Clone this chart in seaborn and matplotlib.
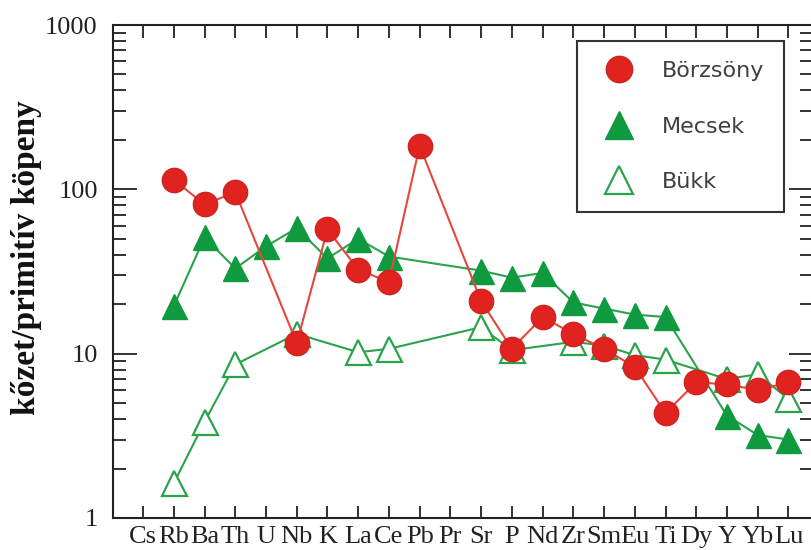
import numpy as np
import pandas as pd
import matplotlib
matplotlib.use("Agg")
import matplotlib.pyplot as plt
from matplotlib.lines import Line2D
import seaborn as sns

# element order on the x axis (spider diagram)
elements = ["Cs", "Rb", "Ba", "Th", "U", "Nb", "K", "La", "Ce", "Pb", "Pr",
            "Sr", "P", "Nd", "Zr", "Sm", "Eu", "Ti", "Dy", "Y", "Yb", "Lu"]

nan = np.nan
# rock / primitive mantle values
borzsony = [nan, 114, 81, 96, nan, 11.6, 57, 32.5, 27.3, 184, nan,
            20.9, 10.7, 16.7, 13.2, 10.7, 8.3, 4.35, 6.7, 6.5, 6.0, 6.7]
mecsek = [nan, 19.5, 51, 33, 45, 58, 38, 50, 39, nan, nan,
          32, 29, 31, 20.5, 18.8, 17.3, 16.7, nan, 4.2, 3.2, 3.0]
bukk = [nan, 1.63, 3.85, 8.6, nan, 13.2, nan, 10.2, 10.7, nan, nan,
        14.5, 10.5, nan, 11.8, 11.2, 9.8, 9.2, nan, 7.0, 7.5, 5.3]

y_ticks = [1, 10, 100, 1000]
y_ticklabels = ["1", "10", "100", "1000"]

df = pd.DataFrame({
    "pos": np.arange(len(elements)),
    "element": elements,
    "Börzsöny": borzsony,
    "Mecsek": mecsek,
    "Bükk": bukk,
})

red = "#e1231f"
red_edge = "#cc2420"
red_line = "#e5473f"
green = "#109a3f"
green_line = "#2ba34c"

sns.set_style("ticks")
serif = ["Liberation Serif", "DejaVu Serif"]

fig = plt.figure(figsize=(8.12, 5.5), dpi=100)
ax = fig.add_axes([113 / 812, 1 - 518 / 550, 700 / 812, 493 / 550])

# Bükk - open triangles
d = df.dropna(subset=["Bükk"])
sns.lineplot(data=d, x="pos", y="Bükk", ax=ax, color=green_line, lw=1.5,
             marker="^", markersize=18, markerfacecolor="white",
             markeredgecolor=green_line, markeredgewidth=1.6,
             errorbar=None, legend=False, zorder=2)

# Mecsek - filled triangles
d = df.dropna(subset=["Mecsek"])
sns.lineplot(data=d, x="pos", y="Mecsek", ax=ax, color=green_line, lw=1.5,
             marker="^", markersize=18, markerfacecolor=green,
             markeredgecolor=green, markeredgewidth=1.0,
             errorbar=None, legend=False, zorder=3)

# Börzsöny - red circles
d = df.dropna(subset=["Börzsöny"])
sns.lineplot(data=d, x="pos", y="Börzsöny", ax=ax, color=red_line, lw=1.5,
             marker="o", markersize=17.5, markerfacecolor=red,
             markeredgecolor=red_edge, markeredgewidth=1.0,
             errorbar=None, legend=False, zorder=4)

ax.set_yscale("log")
ax.set_ylim(1, 1000)
ax.set_xlim(-0.98, 21.8)
ax.set_xticks(df["pos"])
ax.set_xticklabels(elements, fontfamily=serif, fontsize=19, color="#222222")
ax.set_yticks(y_ticks)
ax.set_yticklabels(y_ticklabels, fontfamily=serif, fontsize=19, color="#222222")
ax.set_xlabel("")
ax.set_ylabel("")

ax.tick_params(which="both", direction="in", top=True, right=True,
               color="#222222", width=1.3)
ax.tick_params(axis="x", length=9, pad=6)
ax.tick_params(axis="y", which="major", length=17, pad=11)
ax.tick_params(axis="y", which="minor", length=9.5)
for side in ["left", "bottom", "top", "right"]:
    ax.spines[side].set_linewidth(1.5)
    ax.spines[side].set_color("#222222")

fig.text(27 / 812, 1 - 258 / 550, "kőzet/primitív köpeny", rotation=90,
         ha="center", va="center", fontfamily=serif, fontweight="bold",
         fontsize=24, color="#111111")

handles = [
    Line2D([], [], linestyle="none", marker="o", markersize=19,
           markerfacecolor=red, markeredgecolor=red_edge),
    Line2D([], [], linestyle="none", marker="^", markersize=20,
           markerfacecolor=green, markeredgecolor=green),
    Line2D([], [], linestyle="none", marker="^", markersize=20,
           markerfacecolor="white", markeredgecolor=green_line,
           markeredgewidth=1.6),
]
leg = ax.legend(handles, ["Börzsöny", "Mecsek", "Bükk"],
                loc="upper left", bbox_to_anchor=(577 / 812, 1 - 41 / 550),
                bbox_transform=fig.transFigure, borderaxespad=0,
                frameon=True, fancybox=False, framealpha=1,
                prop={"family": "DejaVu Sans", "size": 16},
                handlelength=2.0, handletextpad=0.9, borderpad=0.9,
                labelspacing=1.6)
leg.get_frame().set_edgecolor("#333333")
leg.get_frame().set_linewidth(1.5)
for t in leg.get_texts():
    t.set_color("#404040")

fig.savefig("out.png", dpi=100)
